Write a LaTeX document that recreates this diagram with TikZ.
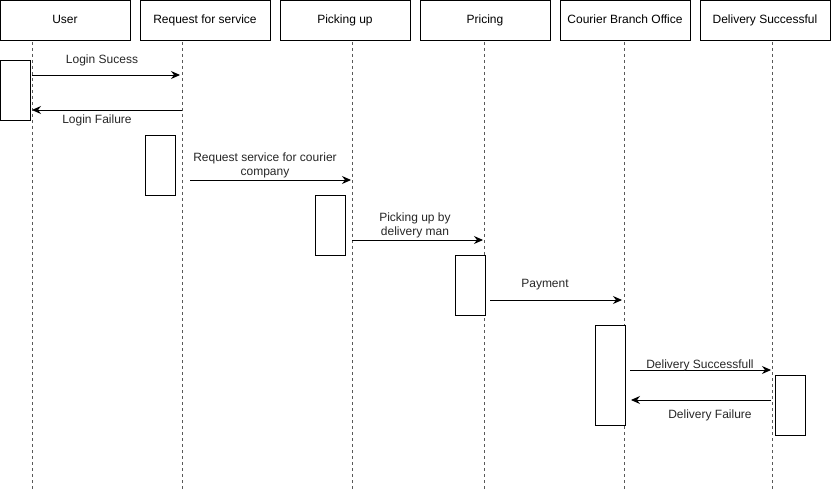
\documentclass[tikz,border=0pt]{standalone}
\usepackage{fontspec}
\setmainfont{Liberation Sans}
\usetikzlibrary{arrows.meta}
\tikzset{
  head/.style={draw, minimum width=130pt, minimum height=40pt, inner sep=0pt, text height=9pt, text depth=1pt, font=\fontsize{12}{14}\selectfont},
  actbox/.style={draw, fill=white, minimum width=30pt, inner sep=0pt},
  life/.style={dashed, draw=black!65, line width=0.8pt},
  msg/.style={-{Stealth[length=9pt, width=8pt, inset=3pt]}, line width=0.9pt},
  lbl/.style={font=\fontsize{12}{14}\selectfont, text=black!85, align=center, inner sep=0pt}
}
\begin{document}
\begin{tikzpicture}[x=1pt, y=-1pt]
            \useasboundingbox (0,0) rectangle (831,492);
            % headers
            \node[head](user) at (65,20){User};
            \node[head](req) at (205,20){Request for service};
            \node[head](pick) at (345,20){Picking up};
            \node[head](price) at (485,20){Pricing};
            \node[head](office) at (625,20){Courier Branch Office};
            \node[head](deliv) at (765,20){Delivery Successful};
            % lifelines
            \coordinate(u1) at (32,42);   \coordinate(u2) at (32,492);
            \coordinate(r1) at (182,42);  \coordinate(r2) at (182,492);
            \coordinate(p1) at (352,42);  \coordinate(p2) at (352,492);
            \coordinate(c1) at (484,42);  \coordinate(c2) at (484,492);
            \coordinate(o1) at (624,42);  \coordinate(o2) at (624,492);
            \coordinate(d1) at (772,42);  \coordinate(d2) at (772,492);
            \draw[life] (u1) -- (u2);
            \draw[life] (r1) -- (r2);
            \draw[life] (p1) -- (p2);
            \draw[life] (c1) -- (c2);
            \draw[life] (o1) -- (o2);
            \draw[life] (d1) -- (d2);
            % activations
            \node[actbox, minimum height=60pt](au) at (15,90){};
            \node[actbox, minimum height=60pt](ar) at (160,165){};
            \node[actbox, minimum height=60pt](ap) at (330,225){};
            \node[actbox, minimum height=60pt](ac) at (470,285){};
            \node[actbox, minimum height=100pt](ao) at (610,375){};
            \node[actbox, minimum height=60pt](ad) at (790,405){};
            % messages
            \coordinate(m1a) at (32,75);   \coordinate(m1b) at (180,75);
            \coordinate(m2a) at (182,110); \coordinate(m2b) at (32,110);
            \coordinate(m3a) at (190,180); \coordinate(m3b) at (351,180);
            \coordinate(m4a) at (352,240); \coordinate(m4b) at (483,240);
            \coordinate(m5a) at (490,300); \coordinate(m5b) at (622,300);
            \coordinate(m6a) at (630,370); \coordinate(m6b) at (771,370);
            \coordinate(m7a) at (771,400); \coordinate(m7b) at (631,400);
            \draw[msg] (m1a) -- (m1b);
            \draw[msg] (m2a) -- (m2b);
            \draw[msg] (m3a) -- (m3b);
            \draw[msg] (m4a) -- (m4b);
            \draw[msg] (m5a) -- (m5b);
            \draw[msg] (m6a) -- (m6b);
            \draw[msg] (m7a) -- (m7b);
            % labels
            \node[lbl](l1) at (102,60){Login Sucess};
            \node[lbl](l2) at (97,120){Login Failure};
            \node[lbl](l3) at (265,165){Request service for courier\\company};
            \node[lbl](l4) at (415,225){Picking up by\\delivery man};
            \node[lbl](l5) at (545,285){Payment};
            \node[lbl](l6) at (700,365){Delivery Successfull};
            \node[lbl](l7) at (710,415){Delivery Failure};
        \end{tikzpicture}
\end{document}
